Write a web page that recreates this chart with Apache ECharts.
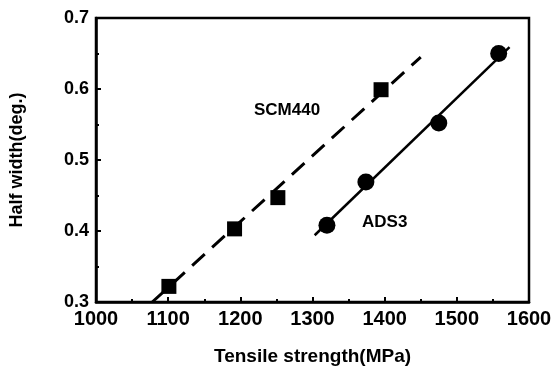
<!DOCTYPE html>
<html>
<head>
<meta charset="utf-8">
<script src="https://cdn.jsdelivr.net/npm/echarts@6/dist/echarts.min.js"></script>
<style>html,body{margin:0;padding:0;background:#fff;}#c{width:554px;height:367px;}</style>
</head>
<body>
<div id="c"></div>
<script>
// Data
const scmX = [1101, 1192, 1252, 1395];
const scmY = [0.322, 0.403, 0.447, 0.599];
const adsX = [1320, 1374, 1475, 1558];
const adsY = [0.408, 0.469, 0.552, 0.650];
// fitted line endpoints
const scmFitX = [1078, 1450];
const scmFitY = [0.300, 0.645];
const adsFitX = [1303, 1573];
const adsFitY = [0.394, 0.659];
const xTicks = [1000, 1100, 1200, 1300, 1400, 1500, 1600];
const yTicks = [0.3, 0.4, 0.5, 0.6, 0.7];

const zip = (a, b) => a.map((v, i) => [v, b[i]]);
const FONT = 'Liberation Sans, Arial, Helvetica, sans-serif';

const chart = echarts.init(document.getElementById('c'), null, {renderer: 'canvas'});
chart.setOption({
  backgroundColor: '#fff',
  animation: false,
  grid: {left: 96, right: 25, top: 18, bottom: 65, containLabel: false, outerBoundsMode: 'none',
    show: true, borderColor: '#000', borderWidth: 2.5, backgroundColor: 'transparent'},
  xAxis: {
    type: 'value', min: xTicks[0], max: xTicks[xTicks.length - 1], interval: 100,
    axisLine: {show: true, lineStyle: {color: '#000', width: 2.5}},
    axisTick: {inside: true, length: 5, lineStyle: {color: '#000', width: 2}},
    minorTick: {show: true, splitNumber: 2, length: 3, lineStyle: {color: '#000', width: 2}},
    splitLine: {show: false},
    axisLabel: {color: '#000', fontFamily: FONT, fontSize: 20, fontWeight: 'bold', margin: 7,
      formatter: v => String(v)},
    name: 'Tensile strength(MPa)', nameLocation: 'middle', nameGap: 45,
    nameTextStyle: {color: '#000', fontFamily: FONT, fontSize: 19, fontWeight: 'bold'}
  },
  yAxis: {
    type: 'value', min: yTicks[0], max: yTicks[yTicks.length - 1], interval: 0.1,
    axisLine: {show: true, lineStyle: {color: '#000', width: 2.5}},
    axisTick: {inside: true, length: 5, lineStyle: {color: '#000', width: 2}},
    minorTick: {show: true, splitNumber: 2, length: 3, lineStyle: {color: '#000', width: 2}},
    splitLine: {show: false},
    axisLabel: {color: '#000', fontFamily: FONT, fontSize: 18, fontWeight: 'bold', margin: 7,
      formatter: v => v.toFixed(1)},
    name: 'Half width(deg.)', nameLocation: 'middle', nameGap: 70,
    nameTextStyle: {color: '#000', fontFamily: FONT, fontSize: 18, fontWeight: 'bold'}
  },
  series: [
    {type: 'line', data: zip(scmFitX, scmFitY), symbol: 'none', silent: true,
      lineStyle: {color: '#000', width: 3, type: [17, 10]}},
    {type: 'line', data: zip(adsFitX, adsFitY), symbol: 'none', silent: true,
      lineStyle: {color: '#000', width: 2.5}},
    {type: 'scatter', data: zip(scmX, scmY), symbol: 'rect', symbolSize: 15,
      itemStyle: {color: '#000', opacity: 1}},
    {type: 'scatter', data: zip(adsX, adsY), symbol: 'circle', symbolSize: 17,
      itemStyle: {color: '#000', opacity: 1}}
  ],
  graphic: [
    {type: 'text', left: 254, top: 102, style: {text: 'SCM440', fill: '#000', font: 'bold 17px ' + FONT}},
    {type: 'text', left: 362, top: 214, style: {text: 'ADS3', fill: '#000', font: 'bold 17px ' + FONT}}
  ]
});
</script>
</body>
</html>
